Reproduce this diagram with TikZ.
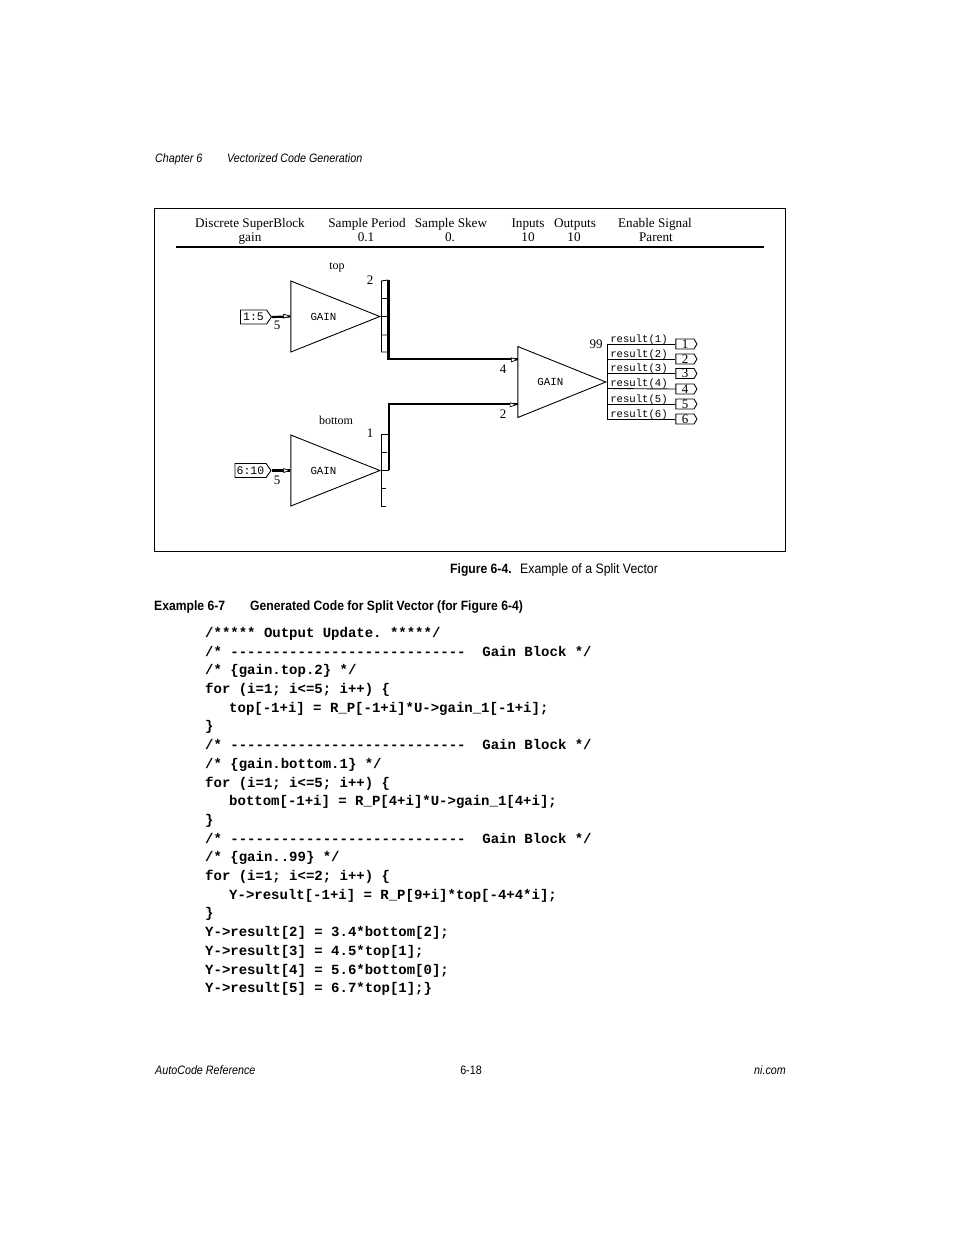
\documentclass[tikz,border=0pt]{standalone}
\usepackage{fontspec}
\usetikzlibrary{shapes.geometric,shapes.symbols}
\setmonofont{Liberation Mono}
\newfontfamily\narrowsans[FakeStretch=0.88]{Liberation Sans}
\newfontfamily\capsans[FakeStretch=0.9]{Liberation Sans}
\newfontfamily\boxserif{Liberation Serif}
\newfontfamily\boxmono{Liberation Mono}
\tikzset{
  thin line/.style={draw=black,line width=0.9pt},
  thick line/.style={draw=black,line width=2.2pt},
  page text/.style={anchor=base west,inner sep=0pt,font=\narrowsans\fontsize{12.2}{14}\selectfont},
  page ital/.style={page text,font=\narrowsans\itshape\fontsize{12.2}{14}\selectfont},
  cap text/.style={page text,font=\capsans\fontsize{13.7}{14}\selectfont},
  cap bold/.style={page text,font=\capsans\bfseries\fontsize{13.5}{14}\selectfont},
  code/.style={anchor=base west,inner sep=0pt,font=\ttfamily\bfseries\fontsize{14}{14}\selectfont},
  head/.style={anchor=base,inner sep=0pt,font=\boxserif\fontsize{13.2}{14}\selectfont},
  lab/.style={anchor=base,inner sep=0pt,font=\boxserif\fontsize{12}{14}\selectfont},
  num/.style={anchor=base,inner sep=0pt,font=\boxserif\fontsize{13}{14}\selectfont},
  res/.style={anchor=base,inner sep=0pt,font=\boxmono\fontsize{10.6}{12}\selectfont},
  gainbox/.style={isosceles triangle,isosceles triangle stretches,draw=black,line width=0.9pt,
    minimum width=71pt,minimum height=89pt,inner sep=0pt,anchor=apex,font=\boxmono\fontsize{10.8}{12}\selectfont},
  intag/.style={signal,signal to=east,signal pointer angle=110,draw=black,line width=0.9pt,inner sep=0pt,
    minimum height=14pt,font=\boxmono\fontsize{11.5}{12}\selectfont},
  outtag/.style={signal,signal to=east,signal pointer angle=120,draw=black,line width=0.9pt,inner sep=0pt,
    minimum width=21pt,minimum height=10pt,font=\boxserif\fontsize{13}{10}\selectfont},
  wedge/.style={isosceles triangle,isosceles triangle stretches,draw=black,fill=white,line width=0.7pt,
    minimum height=6pt,minimum width=4pt,inner sep=0pt},
}
\begin{document}
\begin{tikzpicture}[x=1pt,y=-1pt]
\useasboundingbox[fill=white] (0,0) rectangle (954,1235);
% page header
\node[page ital] (chap) at (155,162) {Chapter 6};
\node[page ital] (title) at (227,162) {Vectorized Code Generation};
% figure frame
\draw[thin line] (154.5,208.5) rectangle (785.5,551.5);
\draw[thick line] (176,247) -- (764,247);
\node[head] (h1) at (250,227) {Discrete SuperBlock};
\node[head] (h1b) at (250,241) {gain};
\node[head] (h2) at (367,227) {Sample Period};
\node[head] (h2b) at (366,241) {0.1};
\node[head] (h3) at (451,227) {Sample Skew};
\node[head] (h3b) at (450,241) {0.};
\node[head] (h4) at (528,227) {Inputs};
\node[head] (h4b) at (528,241) {10};
\node[head] (h5) at (575,227) {Outputs};
\node[head] (h5b) at (574,241) {10};
\node[head] (h6) at (655,227) {Enable Signal};
\node[head] (h6b) at (656,241) {Parent};
% gain blocks
\node[gainbox] (top) at (381,316.5) {\hspace{7pt}GAIN};
\node[gainbox] (bot) at (381,470.5) {\hspace{7pt}GAIN};
\node[gainbox,minimum height=88pt] (sum) at (607,382) {\hspace{7pt}GAIN};
\node[lab] (toplab) at (337,269) {top};
\node[lab] (botlab) at (336,424) {bottom};
% input tags
\node[intag,minimum width=31pt] (in1) at (253.5,317) {1:5};
\node[intag,minimum width=36pt] (in2) at (250.5,470.5) {6:10};
\draw[thick line] (in1.east) -- node[wedge,pos=0.72,yshift=0.5pt]{} (top.lower side);
\draw[thick line] (in2.east) -- node[wedge,pos=0.72]{} (bot.lower side);
\node[num] (n5a) at (277,329) {5};
\node[num] (n5b) at (277,484) {5};
\node[num] (n2) at (370,284) {2};
\node[num] (n1) at (370,437) {1};
% split bars
\coordinate (ta) at (381,281); \coordinate (tb) at (381,298.5); \coordinate (tc) at (381,316.5);
\coordinate (td) at (381,335); \coordinate (te) at (381,352);
\coordinate (tra) at (388.5,280); \coordinate (trb) at (388.5,298.5); \coordinate (trc) at (388.5,316.5);
\coordinate (trd) at (388.5,335); \coordinate (tre) at (388.5,352); \coordinate (tcorner) at (388.5,359);
\draw[thin line] (ta) -- (te);
\draw[thin line] (ta) -- (tra) (tb) -- (trb) (tc) -- (trc) (td) -- (trd) (te) -- (tre);
\coordinate (ba) at (381,434); \coordinate (bb) at (381,452); \coordinate (bc) at (381,470);
\coordinate (bd) at (381,488); \coordinate (be) at (381,506.5);
\coordinate (bra) at (389,434); \coordinate (brb) at (387,452); \coordinate (brc) at (389,470);
\coordinate (brd) at (386,488); \coordinate (bre) at (386,506.5); \coordinate (bcorner) at (389,404);
\draw[thin line] (ba) -- (be);
\draw[thin line] (ba) -- (bra) (bb) -- (brb) (bc) -- (brc) (bd) -- (brd) (be) -- (bre);
% thick connectors
\coordinate (s1) at (518,359); \coordinate (s2) at (518,404);
\draw[thick line] (tra) -- (tcorner) -- node[wedge,pos=0.96,yshift=-0.8pt]{} (s1);
\draw[thick line] (brc) -- (bcorner) -- node[wedge,pos=0.95,yshift=-0.8pt]{} (s2);
\node[num] (n4) at (503,373) {4};
\node[num] (n2b) at (503,418) {2};
\node[num] (n99) at (596,348) {99};
% outputs
\draw[thin line] (607,344) -- (607,419);
\foreach \i/\y/\ty in {1/344/344,2/359/359,3/373.5/373.5,4/388.5/389,5/404/404,6/419/419}{
  \node[outtag] (out\i) at (685,\ty) {\i\hspace{3pt}};
  \draw[thin line] (607,\y) -- (out\i.west);
  \node[res] (res\i) at (639,\y-1.8) {result(\i)};
}
% caption
\node[cap bold] (figcap) at (450,573) {Figure 6-4.};
\node[cap text] (figtxt) at (520,573) {Example of a Split Vector};
\node[cap bold] (extag) at (154,610) {Example 6-7};
\node[cap bold] (extit) at (250,610) {Generated Code for Split Vector (for Figure 6-4)};
% code
\node[code] (c1) at (205,637) {/*****\ Output\ Update.\ *****/};
\node[code] (c2) at (205,656) {/*\ ----------------------------\ \ Gain\ Block\ */};
\node[code] (c3) at (205,674.5) {/*\ \{gain.top.2\}\ */};
\node[code] (c4) at (205,693) {for\ (i=1;\ i<=5;\ i++)\ \{};
\node[code] (c5) at (229,712) {top[-1+i]\ =\ R\_P[-1+i]*U->gain\_1[-1+i];};
\node[code] (c6) at (205,730.5) {\}};
\node[code] (c7) at (205,749) {/*\ ----------------------------\ \ Gain\ Block\ */};
\node[code] (c8) at (205,768) {/*\ \{gain.bottom.1\}\ */};
\node[code] (c9) at (205,787) {for\ (i=1;\ i<=5;\ i++)\ \{};
\node[code] (c10) at (229,805) {bottom[-1+i]\ =\ R\_P[4+i]*U->gain\_1[4+i];};
\node[code] (c11) at (205,824) {\}};
\node[code] (c12) at (205,843) {/*\ ----------------------------\ \ Gain\ Block\ */};
\node[code] (c13) at (205,861.5) {/*\ \{gain..99\}\ */};
\node[code] (c14) at (205,880) {for\ (i=1;\ i<=2;\ i++)\ \{};
\node[code] (c15) at (229,899) {Y->result[-1+i]\ =\ R\_P[9+i]*top[-4+4*i];};
\node[code] (c16) at (205,917.5) {\}};
\node[code] (c17) at (205,936) {Y->result[2]\ =\ 3.4*bottom[2];};
\node[code] (c18) at (205,955) {Y->result[3]\ =\ 4.5*top[1];};
\node[code] (c19) at (205,974) {Y->result[4]\ =\ 5.6*bottom[0];};
\node[code] (c20) at (205,992) {Y->result[5]\ =\ 6.7*top[1];\}};
% footer
\node[page ital] (foot1) at (155,1074) {AutoCode Reference};
\node[page text,anchor=base] (foot2) at (471,1074) {6-18};
\node[page ital,anchor=base east] (foot3) at (786,1074) {ni.com};
\end{tikzpicture}
\end{document}
